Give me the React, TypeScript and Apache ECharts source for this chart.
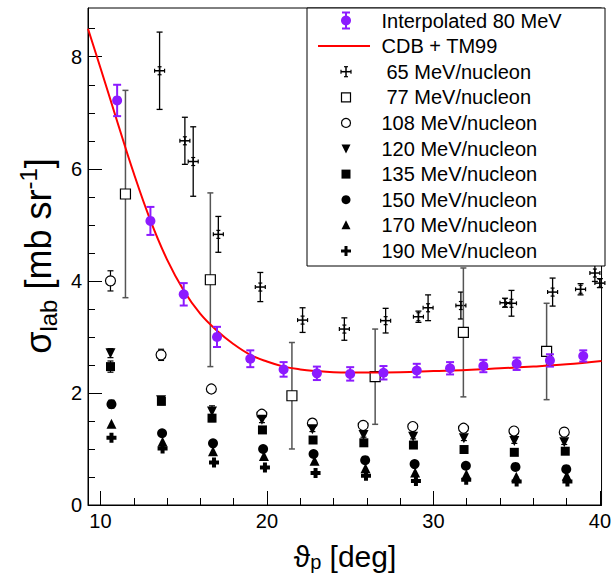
import React, { useEffect, useRef } from 'react';
import * as echarts from 'echarts';

const FONT = '"Liberation Sans", Arial, Helvetica, sans-serif';
const PURPLE = '#8c1aff';

// Interpolated 80 MeV
const interpAngles = [11, 13, 15, 17, 19, 21, 23, 25, 27, 29, 31, 33, 35, 37, 39];
const interpValues = [7.22, 5.07, 3.76, 3.0, 2.61, 2.42, 2.35, 2.34, 2.36, 2.4, 2.44, 2.48, 2.52, 2.58, 2.66];
const interpErrors = [0.28, 0.25, 0.2, 0.18, 0.15, 0.13, 0.12, 0.12, 0.12, 0.12, 0.11, 0.11, 0.11, 0.11, 0.1];

// CDB + TM99 curve
const theoryAngles = [9.25, 10, 11, 12, 13, 14, 15, 16, 17, 18, 19, 20, 21, 22, 23, 24, 25, 26, 28, 30, 32, 34, 36, 38, 40.1];
const theoryValues = [8.5, 7.8, 6.85, 5.92, 5.08, 4.38, 3.83, 3.41, 3.11, 2.87, 2.68, 2.56, 2.47, 2.42, 2.39, 2.37, 2.365, 2.365, 2.37, 2.39, 2.41, 2.44, 2.47, 2.51, 2.57];

// 65 MeV/nucleon
const mev65Angles = [13.55, 15.07, 15.57, 17.08, 19.6, 22.14, 24.65, 27.13, 29.1, 29.68, 31.65, 34.3, 34.69, 37.16, 38.84, 39.7, 40.0];
const mev65Values = [7.75, 6.5, 6.13, 4.83, 3.89, 3.3, 3.14, 3.29, 3.36, 3.52, 3.56, 3.61, 3.6, 3.8, 3.85, 4.14, 3.96];
const mev65Errors = [0.69, 0.42, 0.62, 0.32, 0.26, 0.22, 0.2, 0.22, 0.1, 0.23, 0.24, 0.08, 0.23, 0.25, 0.1, 0.15, 0.08];

// 77 MeV/nucleon
const mev77Angles = [11.5, 16.6, 21.5, 26.5, 31.8, 36.8];
const mev77Values = [5.55, 4.02, 1.95, 2.29, 3.08, 2.74];
const mev77Errors = [1.85, 1.55, 0.95, 0.85, 1.15, 0.86];

// 108 .. 190 MeV/nucleon
const mev108Angles = [10.6, 13.64, 16.66, 19.69, 22.73, 25.78, 28.76, 31.81, 34.84, 37.86];
const mev108Values = [4.0, 2.68, 2.07, 1.62, 1.46, 1.42, 1.4, 1.37, 1.32, 1.3];
const mev108Errors = [0.18, 0.1, 0.06, 0.05, 0.04, 0.04, 0.04, 0.04, 0.04, 0.04];

const mev120Angles = [10.6, 13.64, 16.7, 19.7, 22.73, 25.8, 28.78, 31.83, 34.86, 37.86];
const mev120Values = [2.71, 1.87, 1.67, 1.52, 1.35, 1.25, 1.22, 1.19, 1.14, 1.12];
const mev120Errors = [0.08, 0.06, 0.1, 0.05, 0.04, 0.04, 0.04, 0.04, 0.04, 0.04];

const mev135Angles = [10.6, 13.66, 16.7, 19.73, 22.77, 25.82, 28.8, 31.84, 34.86, 37.92];
const mev135Values = [2.47, 1.85, 1.55, 1.34, 1.16, 1.11, 1.07, 0.99, 0.94, 0.96];
const mev135Errors = [0.1, 0.06, 0.06, 0.04, 0.04, 0.04, 0.04, 0.04, 0.04, 0.04];

const mev150Angles = [10.66, 13.7, 16.76, 19.77, 22.8, 25.9, 28.87, 31.95, 34.93, 37.98];
const mev150Values = [1.8, 1.28, 1.1, 1.0, 0.91, 0.8, 0.73, 0.7, 0.68, 0.64];
const mev150Errors = [0.07, 0.05, 0.05, 0.04, 0.03, 0.03, 0.03, 0.03, 0.03, 0.03];

const mev170Angles = [10.66, 13.73, 16.76, 19.82, 22.86, 25.92, 28.9, 31.98, 34.98, 38.01];
const mev170Values = [1.45, 1.13, 0.96, 0.875, 0.79, 0.655, 0.58, 0.55, 0.505, 0.52];

const mev190Angles = [10.66, 13.73, 16.82, 19.88, 22.92, 25.95, 28.95, 31.97, 35.0, 38.05];
const mev190Values = [1.2, 1.01, 0.76, 0.67, 0.57, 0.52, 0.43, 0.45, 0.42, 0.42];

// Axis ticks
const xMajorTicks = [10, 20, 30, 40];
const xMinorTicks = [12, 14, 16, 18, 22, 24, 26, 28, 32, 34, 36, 38];
const yMajorTicks = [0, 2, 4, 6, 8];
const yMinorTicks = [0.5, 1, 1.5, 2.5, 3, 3.5, 4.5, 5, 5.5, 6.5, 7, 7.5, 8.5];

const legendLabels = [
  'Interpolated 80 MeV',
  'CDB + TM99',
  '65 MeV/nucleon',
  '77 MeV/nucleon',
  '108 MeV/nucleon',
  '120 MeV/nucleon',
  '135 MeV/nucleon',
  '150 MeV/nucleon',
  '170 MeV/nucleon',
  '190 MeV/nucleon',
];

const PLUS_PATH = 'path://M3,0H7V3H10V7H7V10H3V7H0V3H3Z';

const zip = (a: number[], b: number[], c?: number[]) =>
  a.map((x, i) => (c ? [x, b[i], c[i]] : [x, b[i]]));

function ln(x1: number, y1: number, x2: number, y2: number, stroke: string, lineWidth: number, z?: number) {
  const el: any = { type: 'line', shape: { x1, y1, x2, y2 }, style: { stroke, lineWidth } };
  if (z !== undefined) el.z = z;
  return el;
}

function errorBarSeries(data: number[][], color: string, lineWidth: number, cap: number) {
  return {
    type: 'custom',
    silent: true,
    data,
    encode: { x: 0, y: 1 },
    renderItem: (params: any, api: any) => {
      const x = api.value(0);
      const y = api.value(1);
      const e = api.value(2);
      const t = api.coord([x, y + e]);
      const b = api.coord([x, y - e]);
      return {
        type: 'group',
        children: [
          ln(t[0], t[1], b[0], b[1], color, lineWidth),
          ln(t[0] - cap, t[1], t[0] + cap, t[1], color, lineWidth),
          ln(b[0] - cap, b[1], b[0] + cap, b[1], color, lineWidth),
        ],
      };
    },
  };
}

function crossChildren(cx: number, cy: number, vHalf: number, z?: number) {
  return [
    ln(cx - 5, cy, cx + 5, cy, '#000', 1.5, z),
    ln(cx - 5, cy - 2, cx - 5, cy + 2, '#000', 1.2, z),
    ln(cx + 5, cy - 2, cx + 5, cy + 2, '#000', 1.2, z),
    ln(cx, cy - vHalf, cx, cy + vHalf, '#000', 1.5, z),
    ln(cx - 2, cy - vHalf, cx + 2, cy - vHalf, '#000', 1.2, z),
    ln(cx - 2, cy + vHalf, cx + 2, cy + vHalf, '#000', 1.2, z),
  ];
}

function scatter(data: number[][], symbol: string, size: number, color: string, border?: string, rotate?: number) {
  return {
    type: 'scatter',
    silent: true,
    data,
    symbol,
    symbolSize: size,
    symbolRotate: rotate || 0,
    itemStyle: border
      ? { color, borderColor: border, borderWidth: 1.2, opacity: 1 }
      : { color, opacity: 1 },
  };
}

function buildLegend() {
  const bx = 307, by = 8, bw = 298, bh = 258;
  const iconX = 346;
  const textX = 381.5;
  const Z = 110;
  const rowY = (i: number) => 20.5 + 25.6 * i;
  const els: any[] = [
    { type: 'rect', shape: { x: bx, y: by, width: bw, height: bh }, style: { fill: '#fff', stroke: '#000', lineWidth: 1 }, z: 100 },
  ];
  legendLabels.forEach((label, i) => {
    const lead = i === 2 || i === 3 ? 5 : 0;
    els.push({
      type: 'text',
      x: textX + lead,
      y: rowY(i),
      z: Z,
      style: {
        text: label, fontSize: 20, fontFamily: FONT, fill: '#000',
        align: 'left', verticalAlign: 'middle', textAlign: 'left', textVerticalAlign: 'middle',
      },
    });
  });
  const y0 = rowY(0);
  els.push(ln(iconX, y0 - 8, iconX, y0 + 8, PURPLE, 2, Z));
  els.push(ln(iconX - 4, y0 - 8, iconX + 4, y0 - 8, PURPLE, 2, Z));
  els.push(ln(iconX - 4, y0 + 8, iconX + 4, y0 + 8, PURPLE, 2, Z));
  els.push({ type: 'circle', z: Z + 1, shape: { cx: iconX, cy: y0, r: 5 }, style: { fill: PURPLE } });
  els.push(ln(318, rowY(1), 370, rowY(1), '#ff0000', 2, Z));
  crossChildren(iconX, rowY(2), 5, Z).forEach((e) => els.push(e));
  const s = 4.5;
  els.push({ type: 'rect', z: Z, shape: { x: iconX - s, y: rowY(3) - s, width: 2 * s, height: 2 * s }, style: { fill: '#fff', stroke: '#000', lineWidth: 1.2 } });
  els.push({ type: 'circle', z: Z, shape: { cx: iconX, cy: rowY(4), r: s }, style: { fill: '#fff', stroke: '#000', lineWidth: 1.2 } });
  els.push({ type: 'polygon', z: Z, shape: { points: [[iconX - s, rowY(5) - 4], [iconX + s, rowY(5) - 4], [iconX, rowY(5) + 5]] }, style: { fill: '#000' } });
  els.push({ type: 'rect', z: Z, shape: { x: iconX - s, y: rowY(6) - s, width: 2 * s, height: 2 * s }, style: { fill: '#000' } });
  els.push({ type: 'circle', z: Z, shape: { cx: iconX, cy: rowY(7), r: s }, style: { fill: '#000' } });
  els.push({ type: 'polygon', z: Z, shape: { points: [[iconX - s, rowY(8) + 4], [iconX + s, rowY(8) + 4], [iconX, rowY(8) - 5]] }, style: { fill: '#000' } });
  const p = rowY(9);
  els.push({ type: 'polygon', z: Z, shape: { points: [
    [iconX - 1.5, p - 5], [iconX + 1.5, p - 5], [iconX + 1.5, p - 1.5], [iconX + 5, p - 1.5],
    [iconX + 5, p + 1.5], [iconX + 1.5, p + 1.5], [iconX + 1.5, p + 5], [iconX - 1.5, p + 5],
    [iconX - 1.5, p + 1.5], [iconX - 5, p + 1.5], [iconX - 5, p - 1.5], [iconX - 1.5, p - 1.5],
  ] }, style: { fill: '#000' } });

  // axis titles
  els.push({
    type: 'text', x: 345, y: 556, z: 50,
    style: {
      text: '{s|ϑ}{sub|p}{s| [deg]}',
      align: 'center', verticalAlign: 'middle', textAlign: 'center', textVerticalAlign: 'middle',
      rich: {
        s: { fontSize: 30, fontFamily: FONT, fill: '#000', lineHeight: 32 },
        sub: { fontSize: 20, fontFamily: FONT, fill: '#000', lineHeight: 18, verticalAlign: 'bottom' },
      },
    },
  });
  els.push({
    type: 'text', x: 38, y: 256, rotation: Math.PI / 2, z: 50,
    style: {
      text: '{s|σ}{sub|lab}{s| [mb sr}{sup|-1}{s|]}',
      align: 'center', verticalAlign: 'middle', textAlign: 'center', textVerticalAlign: 'middle',
      rich: {
        s: { fontSize: 36, fontFamily: FONT, fill: '#000', lineHeight: 44 },
        sub: { fontSize: 24, fontFamily: FONT, fill: '#000', lineHeight: 24, verticalAlign: 'bottom' },
        sup: { fontSize: 24, fontFamily: FONT, fill: '#000', lineHeight: 24, verticalAlign: 'top' },
      },
    },
  });
  return els;
}

export default function App() {
  const ref = useRef<HTMLDivElement>(null);
  useEffect(() => {
    document.body.style.margin = '0';
    if (!ref.current) return;
    const chart = echarts.init(ref.current, undefined, { renderer: 'svg' });
    const xBase = { type: 'value', min: 9.25, max: 40.1, position: 'bottom', splitLine: { show: false } };
    const yBase = { type: 'value', min: 0, max: 8.87, position: 'left', splitLine: { show: false } };
    const option: any = {
      animation: false,
      grid: { left: 88, top: 8, width: 517, height: 497, show: true, borderColor: '#000', borderWidth: 1, backgroundColor: 'transparent' },
      xAxis: [
        {
          ...xBase,
          axisLine: { show: true, lineStyle: { color: '#000', width: 1 } },
          axisTick: { show: true, inside: true, length: 14, customValues: xMajorTicks, lineStyle: { color: '#000', width: 1 } },
          axisLabel: { show: true, customValues: xMajorTicks, fontSize: 20, fontFamily: FONT, color: '#000', margin: 6 },
        },
        {
          ...xBase,
          axisLine: { show: false },
          axisTick: { show: true, inside: true, length: 7, customValues: xMinorTicks, lineStyle: { color: '#000', width: 1 } },
          axisLabel: { show: false },
        },
      ],
      yAxis: [
        {
          ...yBase,
          axisLine: { show: true, lineStyle: { color: '#000', width: 1 } },
          axisTick: { show: true, inside: true, length: 14, customValues: yMajorTicks, lineStyle: { color: '#000', width: 1 } },
          axisLabel: { show: true, customValues: yMajorTicks, fontSize: 20, fontFamily: FONT, color: '#000', margin: 6 },
        },
        {
          ...yBase,
          axisLine: { show: false },
          axisTick: { show: true, inside: true, length: 7, customValues: yMinorTicks, lineStyle: { color: '#000', width: 1 } },
          axisLabel: { show: false },
        },
      ],
      series: [
        // 65 MeV/nucleon
        {
          type: 'custom',
          silent: true,
          data: zip(mev65Angles, mev65Values, mev65Errors),
          encode: { x: 0, y: 1 },
          renderItem: (params: any, api: any) => {
            const x = api.value(0), y = api.value(1), e = api.value(2);
            const c = api.coord([x, y]);
            const t = api.coord([x, y + e]);
            const b = api.coord([x, y - e]);
            return {
              type: 'group',
              children: [
                ln(c[0], t[1], c[0], b[1], '#000', 1.3),
                ln(c[0] - 3, t[1], c[0] + 3, t[1], '#000', 1.3),
                ln(c[0] - 3, b[1], c[0] + 3, b[1], '#000', 1.3),
                ...crossChildren(c[0], c[1], 4),
              ],
            };
          },
        },
        // 77 MeV/nucleon
        errorBarSeries(zip(mev77Angles, mev77Values, mev77Errors), '#555', 1.5, 3),
        scatter(zip(mev77Angles, mev77Values), 'rect', 10, '#fff', '#000'),
        errorBarSeries(zip(mev108Angles, mev108Values, mev108Errors), '#000', 1.2, 3),
        scatter(zip(mev108Angles, mev108Values), 'circle', 10, '#fff', '#000'),
        errorBarSeries(zip(mev120Angles, mev120Values, mev120Errors), '#000', 1.2, 3),
        scatter(zip(mev120Angles, mev120Values), 'triangle', 10, '#000', undefined, 180),
        errorBarSeries(zip(mev135Angles, mev135Values, mev135Errors), '#000', 1.2, 3),
        scatter(zip(mev135Angles, mev135Values), 'rect', 9, '#000'),
        errorBarSeries(zip(mev150Angles, mev150Values, mev150Errors), '#000', 1.2, 3),
        scatter(zip(mev150Angles, mev150Values), 'circle', 10, '#000'),
        scatter(zip(mev170Angles, mev170Values), 'triangle', 10, '#000'),
        scatter(zip(mev190Angles, mev190Values), PLUS_PATH, 10, '#000'),
        // theory curve
        {
          type: 'line',
          silent: true,
          data: zip(theoryAngles, theoryValues),
          smooth: 0.4,
          showSymbol: false,
          symbol: 'none',
          lineStyle: { color: '#ff0000', width: 2 },
          z: 3,
        },
        // interpolated 80 MeV
        { ...errorBarSeries(zip(interpAngles, interpValues, interpErrors), PURPLE, 2, 4), z: 4 },
        { ...scatter(zip(interpAngles, interpValues), 'circle', 10, PURPLE), z: 4 },
      ],
      graphic: { elements: buildLegend() },
    };
    chart.setOption(option);
    return () => chart.dispose();
  }, []);
  return <div ref={ref} style={{ width: 614, height: 578, position: 'absolute', left: 0, top: 0 }} />;
}
